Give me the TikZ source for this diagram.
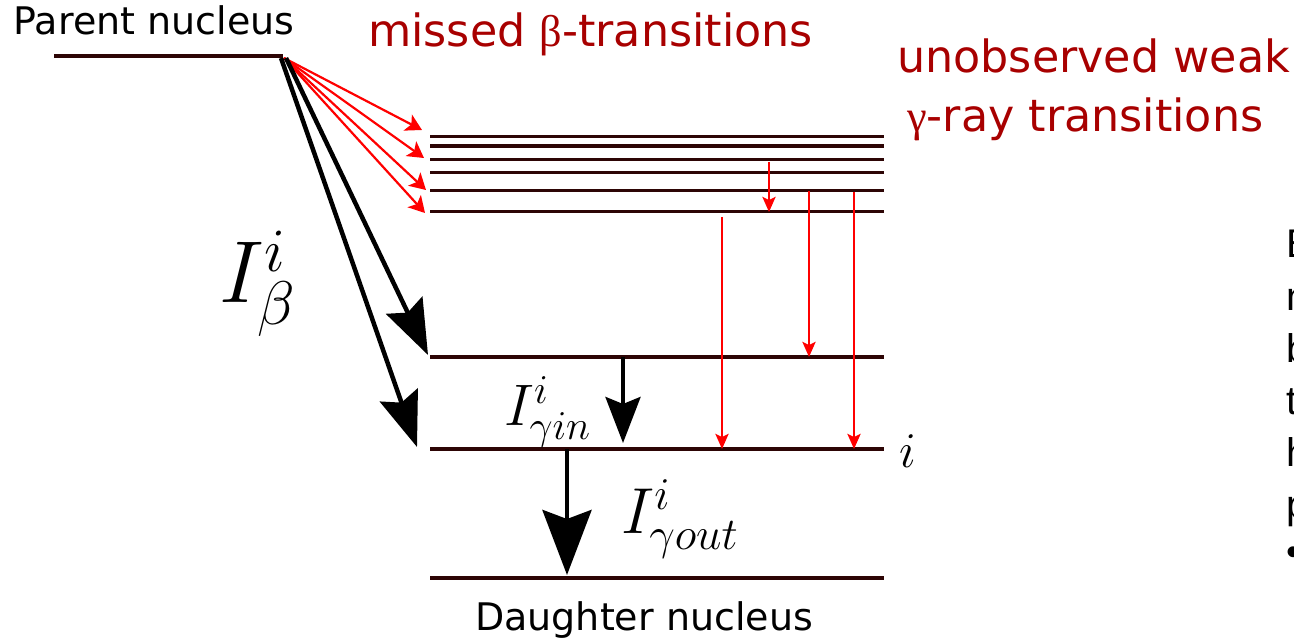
\RequirePackage{fix-cm}
\documentclass[tikz,border=0pt]{standalone}
\usepackage{fontspec}
\setmainfont{DejaVu Sans}
\newfontfamily\grk{Liberation Serif}
\newfontfamily\edgefont{Liberation Sans}
\usetikzlibrary{arrows.meta}
\definecolor{lvl}{RGB}{45,5,5}
\definecolor{dred}{RGB}{168,0,0}
\definecolor{rarr}{RGB}{255,0,0}
\begin{document}
\begin{tikzpicture}[x=1pt,y=-1pt,
  level/.style={draw=lvl,line width=3.5pt},
  blk/.style={font=\fontsize{38}{45}\selectfont,anchor=base west,inner sep=0pt},
  rtxt/.style={text=dred,font=\fontsize{44.4}{52}\selectfont,anchor=base west,inner sep=0pt},
  edgetxt/.style={font=\edgefont\fontsize{40}{48}\selectfont,anchor=base west,inner sep=0pt},
  bigarrow/.style={draw=black,line width=4.5pt,-{Stealth[length=55pt,width=40pt,inset=8pt]}},
  garrowin/.style={draw=black,line width=4pt,-{Stealth[length=46pt,width=35pt,inset=7pt]}},
  garrowout/.style={draw=black,line width=4.5pt,-{Stealth[length=65pt,width=49pt,inset=9pt]}},
  redbeta/.style={draw=rarr,line width=2.2pt,-{Stealth[length=16pt,width=18pt,inset=4pt]}},
  redgamma/.style={draw=rarr,line width=2.7pt,-{Stealth[length=15pt,width=13pt,inset=3pt]}},
  mlab/.style={anchor=base west,inner sep=0pt}]
\useasboundingbox (0,0) rectangle (1294,639);
\clip (0,0) rectangle (1294,639);

% parent level
\coordinate (P0) at (54,56.5);
\coordinate (P1) at (283,56.5);
\draw[level,line width=4pt] (P0) -- (P1);
\coordinate (S) at (284,58);
\coordinate (SbL) at (281,58);
\coordinate (SbR) at (286,58);

% upper dense levels
\foreach \n/\y in {1/136.7,2/146,3/159.3,4/172.7,5/190.7,6/211.7}{
  \coordinate (uL\n) at (430,\y);
  \coordinate (uR\n) at (884,\y);
  \draw[level] (uL\n) -- (uR\n);
}
% main levels
\coordinate (aL) at (430,357); \coordinate (aR) at (884,357);
\coordinate (iL) at (430,449); \coordinate (iR) at (884,449);
\coordinate (dL) at (430,578); \coordinate (dR) at (884,578);
\draw[level] (aL) -- (aR);
\draw[level] (iL) -- (iR);
\draw[level] (dL) -- (dR);

% missed beta transitions
\coordinate (rb1) at (422,130);
\coordinate (rb2) at (424,158);
\coordinate (rb3) at (426,190);
\coordinate (rb4) at (425,213);
\foreach \k in {1,2,3,4}{\draw[redbeta] (S) -- (rb\k);}

% main beta feeding
\coordinate (ba) at (428,355);
\coordinate (bi) at (417,447);
\draw[bigarrow] (SbR) -- (ba);
\draw[bigarrow] (SbL) -- (bi);

% gamma transitions
\coordinate (gin0) at (623,357); \coordinate (gin1) at (623,443);
\draw[garrowin] (gin0) -- (gin1);
\coordinate (gout0) at (567,449); \coordinate (gout1) at (567,575);
\draw[garrowout] (gout0) -- (gout1);

% weak unobserved gamma transitions
\coordinate (wa0) at (769,162); \coordinate (wa1) at (769,212);
\coordinate (wb0) at (722,217); \coordinate (wb1) at (722,449);
\coordinate (wc0) at (809,191); \coordinate (wc1) at (809,357);
\coordinate (wd0) at (854,192); \coordinate (wd1) at (854,449);
\draw[redgamma] (wa0) -- (wa1);
\draw[redgamma] (wb0) -- (wb1);
\draw[redgamma] (wc0) -- (wc1);
\draw[redgamma] (wd0) -- (wd1);

% texts
\node[blk] (tparent) at (13.5,35) {Parent nucleus};
\node[blk] (tdaughter) at (475,630) {Daughter nucleus};
\node[rtxt] (tmissed) at (368,47) {missed {\grk β}-transitions};
\node[rtxt] (tunobs1) at (897,73) {unobserved weak};
\node[rtxt] (tunobs2) at (907,132) {{\grk γ}-ray transitions};

% math labels
\node[mlab,font=\fontsize{88}{100}\selectfont] (lbeta) at (219,303) {$I^i_\beta$};
\node[mlab,font=\fontsize{58.6}{70}\selectfont] (lgin) at (504,425) {$I^i_{\gamma in}$};
\node[mlab,font=\fontsize{65}{78}\selectfont] (lgout) at (621,533) {$I^i_{\gamma out}$};
\node[mlab,font=\fontsize{50}{60}\selectfont] (li) at (899,467) {$i$};

% cut-off text at right edge
\node[edgetxt] (e1) at (1286,258) {B};
\node[edgetxt] (e2) at (1286,310) {n};
\node[edgetxt] (e3) at (1286,362) {b};
\node[edgetxt] (e4) at (1286,414) {t};
\node[edgetxt] (e5) at (1286,466) {h};
\node[edgetxt] (e6) at (1286,518) {p};
\node[edgetxt] (e7) at (1286,565) {•};
\end{tikzpicture}
\end{document}
